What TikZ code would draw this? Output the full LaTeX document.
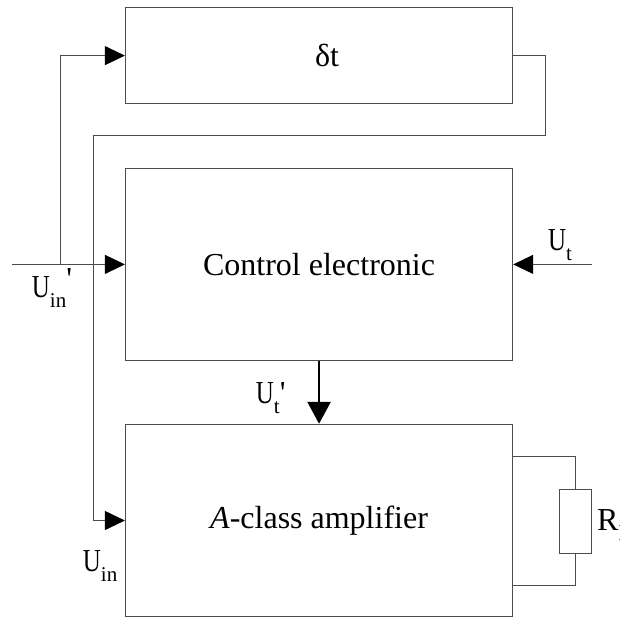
\documentclass[tikz,border=0pt]{standalone}
\usepackage{fontspec}
\usepackage{graphicx}
\setmainfont{Liberation Serif}
\newfontfamily\labfont{Liberation Serif}
\usetikzlibrary{arrows.meta}
\newcommand\myU{\scalebox{0.78}[1]{U}}
\newcommand\mysub[1]{\raisebox{-10pt}{\fontsize{21}{21}\selectfont #1}}
\tikzset{
  box/.style={draw=black!70, line width=1pt, minimum width=387.3pt, inner sep=0pt,
              font=\fontsize{32}{36}\selectfont},
  wire/.style={draw=black!70, line width=1pt},
  arr/.style={wire, -{Triangle[length=20pt,width=19pt,color=black]}},
  bigarr/.style={draw=black, line width=2.5pt, -{Triangle[length=22pt,width=23pt,color=black]}},
  lab/.style={inner sep=0pt, anchor=base west, font=\labfont\fontsize{32}{32}\selectfont},
  rbox/.style={draw=black!70, line width=1pt, minimum width=32pt, minimum height=64.3pt, inner sep=0pt}
}
\begin{document}
\begin{tikzpicture}[x=1pt,y=-1pt]
\useasboundingbox (0,0) rectangle (620,618);
\fill[white] (0,0) rectangle (620,618);
\begin{scope}
\clip (0,0) rectangle (620,618);
% blocks
\node[box, minimum height=96.2pt] (delay) at (319.05,55.6) {\hspace*{16pt}δt};
\node[box, minimum height=192.2pt] (ctrl) at (319.05,264.4) {Control electronic};
\node[box, minimum height=192.4pt] (amp) at (319.05,520.5) {\textit{A}-class amplifier};
\node[rbox] (rl) at (575.5,521.2) {};
% helper points
\coordinate (in) at (12,264.4);
\coordinate (br) at (60.5,264.4);
\coordinate (fbR) at (545,135.7);
\coordinate (fbL) at (93,135.7);
\coordinate (utin) at (592,264.4);
\coordinate (a1) at (512.7,456.7);
\coordinate (a2) at (512.7,585);
% connectors
\draw[arr] (in) -- (ctrl.west);
\draw[arr] (br) |- (delay.west);
\draw[arr] (delay.east) -| (fbR) -- (fbL) |- (amp.west);
\draw[arr] (utin) -- (ctrl.east);
\draw[bigarr] (ctrl.south) -- (amp.north);
\draw[wire] (a1) -| (rl.north);
\draw[wire] (a2) -| (rl.south);
% labels
\node[lab] (lut) at (548,250) {\myU\mysub{t}};
\node[lab] (luin1) at (31.7,297) {\myU\mysub{in}\raisebox{8pt}{\textquotesingle}};
\node[lab] (lut1) at (255.7,403.3) {\myU\mysub{t}\textquotesingle};
\node[lab] (luin) at (82.7,571.7) {\myU\mysub{in}};
\node[lab] (lrl) at (597,530.7) {R\mysub{l}};
\end{scope}
\end{tikzpicture}
\end{document}
